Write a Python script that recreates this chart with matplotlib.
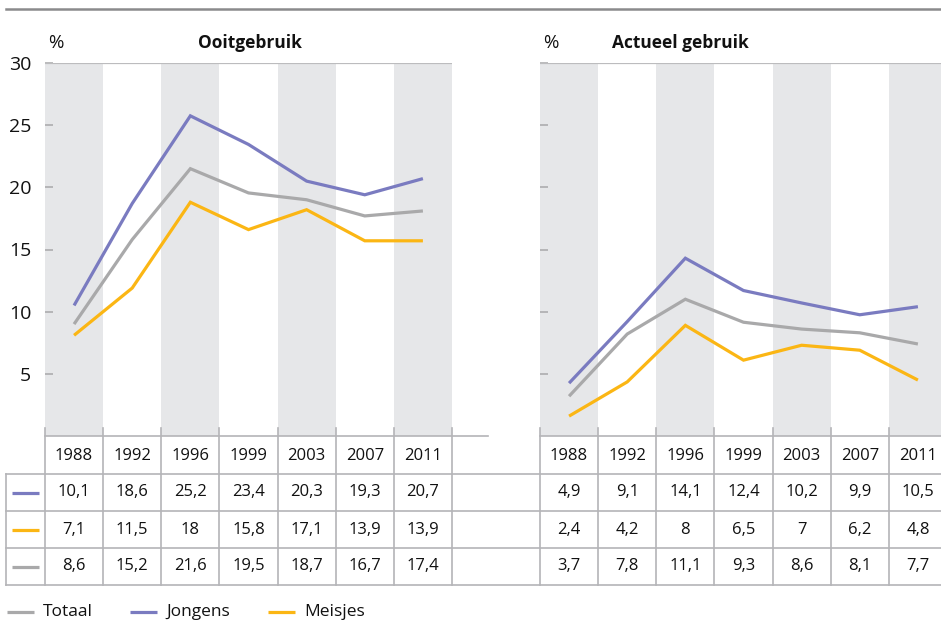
import matplotlib
matplotlib.use("Agg")
import matplotlib.pyplot as plt
import numpy as np

plt.rcParams['font.family'] = ['Open Sans', 'DejaVu Sans']

# ---------------- data ----------------
years = ['1988', '1992', '1996', '1999', '2003', '2007', '2011']
series_names = ['Jongens', 'Meisjes', 'Totaal']

# values as drawn by the lines
ooit_jongens_line = [10.5, 18.7, 25.75, 23.45, 20.5, 19.4, 20.7]
ooit_meisjes_line = [8.1, 11.9, 18.8, 16.6, 18.2, 15.7, 15.7]
ooit_totaal_line = [9.0, 15.8, 21.5, 19.55, 19.0, 17.7, 18.1]

act_jongens_line = [4.25, 9.2, 14.3, 11.7, 10.7, 9.75, 10.4]
act_meisjes_line = [1.6, 4.35, 8.9, 6.1, 7.3, 6.9, 4.5]
act_totaal_line = [3.2, 8.2, 11.0, 9.15, 8.6, 8.3, 7.4]

# values printed in the table
ooit_jongens_tab = ['10,1', '18,6', '25,2', '23,4', '20,3', '19,3', '20,7']
ooit_meisjes_tab = ['7,1', '11,5', '18', '15,8', '17,1', '13,9', '13,9']
ooit_totaal_tab = ['8,6', '15,2', '21,6', '19,5', '18,7', '16,7', '17,4']

act_jongens_tab = ['4,9', '9,1', '14,1', '12,4', '10,2', '9,9', '10,5']
act_meisjes_tab = ['2,4', '4,2', '8', '6,5', '7', '6,2', '4,8']
act_totaal_tab = ['3,7', '7,8', '11,1', '9,3', '8,6', '8,1', '7,7']

y_ticks = [5, 10, 15, 20, 25, 30]
titles = ['Ooitgebruik', 'Actueel gebruik']
legend_order = ['Totaal', 'Jongens', 'Meisjes']

# ---------------- style ----------------
colors = {'Jongens': '#7a7bc0', 'Meisjes': '#fbb614', 'Totaal': '#a9a9aa'}
stripe = '#e6e7e9'
gridc = '#b4b4b7'
txtc = '#111111'
W, H = 941, 621

fig = plt.figure(figsize=(W / 100, H / 100), dpi=100)

# overlay axes in pixel coordinates for structure
ov = fig.add_axes([0, 0, 1, 1], zorder=5)
ov.set_xlim(0, W)
ov.set_ylim(H, 0)
ov.axis('off')
ov.patch.set_alpha(0)

plot_top, plot_bot = 63, 436
panel_left = [45, 540]
col_w = 58.14
ncol = len(years)

row_edges = [436, 474, 511, 548, 585]

panels = [
    (ooit_jongens_line, ooit_meisjes_line, ooit_totaal_line,
     ooit_jongens_tab, ooit_meisjes_tab, ooit_totaal_tab),
    (act_jongens_line, act_meisjes_line, act_totaal_line,
     act_jongens_tab, act_meisjes_tab, act_totaal_tab),
]

for p, (jl, ml, tl, jt, mt, tt) in enumerate(panels):
    x0 = panel_left[p]
    ax = fig.add_axes([x0 / W, (H - plot_bot) / H, ncol * col_w / W,
                       (plot_bot - plot_top) / H], zorder=2)
    ax.set_xlim(0, ncol)
    ax.set_ylim(0, 30)
    for i in range(0, ncol, 2):
        ax.axvspan(i, i + 1, color=stripe, lw=0, zorder=0)
    xs = np.arange(ncol) + 0.5
    for name, vals in (('Totaal', tl), ('Meisjes', ml), ('Jongens', jl)):
        ax.plot(xs, vals, color=colors[name], lw=2.3, zorder=3,
                solid_joinstyle='miter', solid_capstyle='butt')
    ax.axhline(30, color='#bcbcbe', lw=1.6, zorder=4)
    for s in ax.spines.values():
        s.set_visible(False)
    ax.set_xticks([])
    ax.set_yticks(y_ticks)
    ax.tick_params(axis='y', direction='in', length=6, width=1.1,
                   color='#a8a8aa', pad=10, labelsize=14, labelcolor=txtc)
    if p == 1:
        ax.set_yticklabels([])

    # titles
    ov.text(x0 + 3, 43, '%', fontsize=13.5, ha='left', va='center', color=txtc)
    tx = x0 + ncol * col_w * (0.503 if p == 0 else 0.345)
    ov.text(tx, 43, titles[p], fontsize=12.5, fontweight='bold', ha='center',
            va='center', color=txtc)

    # table
    edges = [x0 + i * col_w for i in range(ncol + 1)]
    for e in edges:
        ov.plot([e, e], [428, row_edges[-1]], color=gridc, lw=1.2, zorder=6)
    for i, yr in enumerate(years):
        cx = x0 + (i + 0.5) * col_w
        ov.text(cx, (row_edges[0] + row_edges[1]) / 2 + 1, yr, fontsize=12,
                ha='center', va='center', color=txtc)
        for r, vals in enumerate((jt, mt, tt)):
            ov.text(cx, (row_edges[r + 1] + row_edges[r + 2]) / 2, vals[i],
                    fontsize=12, ha='center', va='center', color=txtc)

# header top lines
ov.plot([45, 488], [436, 436], color=gridc, lw=1.2, zorder=6)
ov.plot([540, W], [436, 436], color=gridc, lw=1.2, zorder=6)
for y in row_edges[1:]:
    ov.plot([6, W], [y, y], color=gridc, lw=1.2, zorder=6)
ov.plot([6, 6], [row_edges[1], row_edges[-1]], color=gridc, lw=1.2, zorder=6)

# legend samples in table
for r, name in enumerate(series_names):
    yc = (row_edges[r + 1] + row_edges[r + 2]) / 2
    ov.plot([12, 39], [yc, yc], color=colors[name], lw=2.3, zorder=6,
            solid_capstyle='butt')

# top rule
ov.plot([6, W], [9, 9], color='#8a8a8c', lw=1.8, zorder=6)

# legend at bottom
leg_x = [7, 130, 268]
for lx, name in zip(leg_x, legend_order):
    ov.plot([lx, lx + 27], [612, 612], color=colors[name], lw=2.3,
            solid_capstyle='butt', zorder=6)
    ov.text(lx + 36, 611.5, name, fontsize=12.5, ha='left', va='center',
            color=txtc)

fig.savefig('out.png', dpi=100)
